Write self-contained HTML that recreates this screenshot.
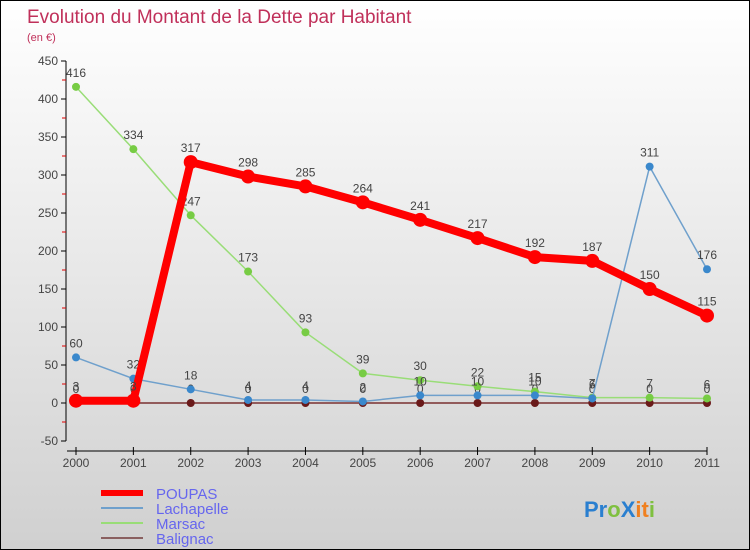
<!DOCTYPE html>
<html><head><meta charset="utf-8"><style>
body{margin:0}
#c{width:750px;height:550px;position:relative;box-sizing:border-box;border:1px solid #000;background:linear-gradient(#ffffff,#d0d0d0);font-family:"Liberation Sans",sans-serif;overflow:hidden}
svg text{font-family:"Liberation Sans",sans-serif}
</style></head><body>
<div id="c">
<svg id="s" width="750" height="550">
<text x="26" y="22" font-size="19" fill="#c0305a">Evolution du Montant de la Dette par Habitant</text>
<text x="26" y="40" font-size="11" fill="#c0305a">(en €)</text>
<g id="axes"></g><g id="series"></g>
<g>
<line x1="100" y1="492" x2="142" y2="492" stroke="#f00" stroke-width="6"/>
<text x="155" y="498" font-size="15" fill="#6666ee">POUPAS</text>
<line x1="100" y1="507" x2="142" y2="507" stroke="#6fa0cc" stroke-width="2"/>
<text x="155" y="513" font-size="15" fill="#6666ee">Lachapelle</text>
<line x1="100" y1="522" x2="142" y2="522" stroke="#99dd77" stroke-width="2"/>
<text x="155" y="528" font-size="15" fill="#6666ee">Marsac</text>
<line x1="100" y1="537" x2="142" y2="537" stroke="#8a6060" stroke-width="2"/>
<text x="155" y="543" font-size="15" fill="#6666ee">Balignac</text>
</g>
<text x="583" y="516" font-size="22" font-weight="bold"><tspan fill="#2a7fd0">Pr</tspan><tspan fill="#7fc040">o</tspan><tspan fill="#2a7fd0">X</tspan><tspan fill="#f08020">it</tspan><tspan fill="#7fc040">i</tspan></text>
</svg></div>
<script>
const years=[2000,2001,2002,2003,2004,2005,2006,2007,2008,2009,2010,2011];
const yTicks=[-50,0,50,100,150,200,250,300,350,400,450];
const poupas=[3,3,317,298,285,264,241,217,192,187,150,115];
const lachapelle=[60,32,18,4,4,2,10,10,10,6,311,176];
const marsac=[416,334,247,173,93,39,30,22,15,7,7,6];
const balignac=[0,0,0,0,0,0,0,0,0,0,0,0];
const NS="http://www.w3.org/2000/svg";
function X(i){return 75+i*(706-75)/11;}
function Y(v){return 402-v*0.76;}
function el(t,a,p){const e=document.createElementNS(NS,t);for(const k in a)e.setAttribute(k,a[k]);p.appendChild(e);return e;}
const ax=document.getElementById('axes');
let l=el('line',{x1:65,y1:Y(450),x2:65,y2:Y(-50),stroke:'#000'},ax);


yTicks.forEach(v=>{
 let t=el('line',{x1:60,y1:Y(v),x2:65,y2:Y(v),stroke:'#000'},ax);
 
 
 let m=el('line',{x1:61,y1:Y(v+25),x2:65,y2:Y(v+25),stroke:'#d00'},ax);
 if(v===450)m.setAttribute('visibility','hidden');
 
 
 let tx=el('text',{x:57,y:Y(v)+4,'font-size':12,fill:'#444','text-anchor':'end'},ax);
 tx.textContent=v;
 
 
});
l=el('line',{x1:66,y1:450,x2:706,y2:450,stroke:'#000'},ax);


years.forEach((y,i)=>{
 let t=el('line',{x1:X(i),y1:446,x2:X(i),y2:454,stroke:'#000'},ax);
 
 
 let tx=el('text',{x:X(i),y:466,'font-size':12,fill:'#444','text-anchor':'middle'},ax);
 tx.textContent=y;
 
 
});
const sg=document.getElementById('series');
function draw(name,data,color,w,r,dot){
 const g=el('g',{},sg);
 
 
 const p=el('polyline',{points:data.map((v,i)=>X(i)+','+Y(v)).join(' '),fill:'none',stroke:color,'stroke-width':w,'stroke-linejoin':'round'},g);
 
 
 data.forEach((v,i)=>{
  const c=el('circle',{cx:X(i),cy:Y(v),r:r,fill:dot},g);
  
  
  const t=el('text',{x:X(i),y:Y(v)-10,'font-size':12,fill:'#444','text-anchor':'middle'},g);
  t.textContent=v;
  
  
 });
}
draw('balignac',balignac,'#7a3030',1.5,4,'#6a1a1a');
draw('marsac',marsac,'#99dd77',1.5,4,'#77cc44');
draw('lachapelle',lachapelle,'#6fa0cc',1.5,4,'#3a88cc');
draw('poupas',poupas,'#f00',8,7,'#f00');
</script>
</body></html>
